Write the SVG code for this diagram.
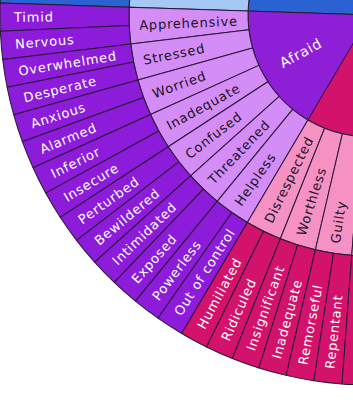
<svg xmlns="http://www.w3.org/2000/svg" xmlns:xlink="http://www.w3.org/1999/xlink" width="353" height="404" viewBox="0 0 353 404">
<style>
.w{stroke:#2a1838;stroke-width:1;stroke-linejoin:round}
.po{fill:#8c1cd9}.pm{fill:#d48cf6}.pi{fill:#8f1fd6}
.mo{fill:#d2126b}.mm{fill:#f592c3}.mi{fill:#d2126b}
.bo{fill:#2a62d2}.bm{fill:#a5c8f5}.bi{fill:#2a62d2}
text{font-family:"DejaVu Sans","Noto Sans",sans-serif;font-size:13px;letter-spacing:0.8px}
.lw{fill:#ffffff}.ld{fill:#1a1024}
</style>
<defs>
<path id="ow" d="M0,15 A370,370 0 0 0 1.079,43.232 L129.703,33.389 A241,241 0 0 1 129,15 Z"/>
<path id="mw" d="M129,15 A241,241 0 0 0 131.806,51.674 L249.421,33.565 A122,122 0 0 1 248,15 Z"/>
</defs>
<rect width="353" height="404" fill="#ffffff"/>
<g id="neighbour-blue">
<path class="w bi" d="M370,15 L291.58,-78.457 A122,122 0 0 0 248.064,11.040 Z"/>
<path class="w bm" d="M143.534,-67.427 A241,241 0 0 0 129.127,7.178 L248.064,11.040 A122,122 0 0 1 255.357,-26.726 Z"/>
<path class="w bo" d="M22.314,-111.547 A370,370 0 0 0 0.195,2.991 L129.127,7.178 A241,241 0 0 1 143.534,-67.427 Z"/>
</g>
<g id="afraid">
<path class="w pi" d="M370,15 L248.064,11.040 A122,122 0 0 0 307.904,120.015 Z"/>
<text class="lw" transform="rotate(-28.772 370 15)" x="291" y="19.9" text-anchor="middle" style="font-size:14px">Afraid</text>
</g>
<g id="ashamed-core">
<path class="w mi" d="M370,15 L307.904,120.015 A122,122 0 0 0 391.185,135.147 Z"/>
</g>
<g id="middle-ring">
<g id="apprehensive"><use href="#mw" class="w pm" transform="rotate(1.86 370 15)"/><text class="ld" transform="rotate(-2.516 370 15)" x="139" y="19.7">Apprehensive</text></g>
<g id="stressed"><use href="#mw" class="w pm" transform="rotate(-6.892 370 15)"/><text class="ld" transform="rotate(-11.268 370 15)" x="139" y="19.7">Stressed</text></g>
<g id="worried"><use href="#mw" class="w pm" transform="rotate(-15.644 370 15)"/><text class="ld" transform="rotate(-20.02 370 15)" x="139" y="19.7">Worried</text></g>
<g id="inadequate-mid"><use href="#mw" class="w pm" transform="rotate(-24.396 370 15)"/><text class="ld" transform="rotate(-28.772 370 15)" x="139" y="19.7">Inadequate</text></g>
<g id="confused"><use href="#mw" class="w pm" transform="rotate(-33.148 370 15)"/><text class="ld" transform="rotate(-37.524 370 15)" x="139" y="19.7">Confused</text></g>
<g id="threatened"><use href="#mw" class="w pm" transform="rotate(-41.9 370 15)"/><text class="ld" transform="rotate(-46.276 370 15)" x="139" y="19.7">Threatened</text></g>
<g id="helpless"><use href="#mw" class="w pm" transform="rotate(-50.652 370 15)"/><text class="ld" transform="rotate(-55.028 370 15)" x="139" y="19.7">Helpless</text></g>
<g id="disrespected"><use href="#mw" class="w mm" transform="rotate(-59.404 370 15)"/><text class="ld" transform="rotate(-63.78 370 15)" x="139" y="19.7">Disrespected</text></g>
<g id="worthless"><use href="#mw" class="w mm" transform="rotate(-68.156 370 15)"/><text class="ld" transform="rotate(-72.532 370 15)" x="139" y="19.7">Worthless</text></g>
<g id="guilty"><use href="#mw" class="w mm" transform="rotate(-76.908 370 15)"/><text class="ld" transform="rotate(-81.284 370 15)" x="139" y="19.7">Guilty</text></g>
<g id="mid-next"><use href="#mw" class="w mm" transform="rotate(-85.66 370 15)"/></g>
</g>
<g id="outer-ring">
<g id="timid"><use href="#ow" class="w po" transform="rotate(1.86 370 15)"/><text class="lw" transform="rotate(-0.328 370 15)" x="14" y="19.7">Timid</text></g>
<g id="nervous"><use href="#ow" class="w po" transform="rotate(-2.516 370 15)"/><text class="lw" transform="rotate(-4.704 370 15)" x="14" y="19.7">Nervous</text></g>
<g id="overwhelmed"><use href="#ow" class="w po" transform="rotate(-6.892 370 15)"/><text class="lw" transform="rotate(-9.08 370 15)" x="14" y="19.7">Overwhelmed</text></g>
<g id="desperate"><use href="#ow" class="w po" transform="rotate(-11.268 370 15)"/><text class="lw" transform="rotate(-13.456 370 15)" x="14" y="19.7">Desperate</text></g>
<g id="anxious"><use href="#ow" class="w po" transform="rotate(-15.644 370 15)"/><text class="lw" transform="rotate(-17.832 370 15)" x="14" y="19.7">Anxious</text></g>
<g id="alarmed"><use href="#ow" class="w po" transform="rotate(-20.02 370 15)"/><text class="lw" transform="rotate(-22.208 370 15)" x="14" y="19.7">Alarmed</text></g>
<g id="inferior"><use href="#ow" class="w po" transform="rotate(-24.396 370 15)"/><text class="lw" transform="rotate(-26.584 370 15)" x="14" y="19.7">Inferior</text></g>
<g id="insecure"><use href="#ow" class="w po" transform="rotate(-28.772 370 15)"/><text class="lw" transform="rotate(-30.96 370 15)" x="14" y="19.7">Insecure</text></g>
<g id="perturbed"><use href="#ow" class="w po" transform="rotate(-33.148 370 15)"/><text class="lw" transform="rotate(-35.336 370 15)" x="14" y="19.7">Perturbed</text></g>
<g id="bewildered"><use href="#ow" class="w po" transform="rotate(-37.524 370 15)"/><text class="lw" transform="rotate(-39.712 370 15)" x="14" y="19.7">Bewildered</text></g>
<g id="intimidated"><use href="#ow" class="w po" transform="rotate(-41.9 370 15)"/><text class="lw" transform="rotate(-44.088 370 15)" x="14" y="19.7">Intimidated</text></g>
<g id="exposed"><use href="#ow" class="w po" transform="rotate(-46.276 370 15)"/><text class="lw" transform="rotate(-48.464 370 15)" x="14" y="19.7">Exposed</text></g>
<g id="powerless"><use href="#ow" class="w po" transform="rotate(-50.652 370 15)"/><text class="lw" transform="rotate(-52.84 370 15)" x="14" y="19.7">Powerless</text></g>
<g id="out-of-control"><use href="#ow" class="w po" transform="rotate(-55.028 370 15)"/><text class="lw" transform="rotate(-57.216 370 15)" x="14" y="19.7">Out of control</text></g>
<g id="humiliated"><use href="#ow" class="w mo" transform="rotate(-59.404 370 15)"/><text class="lw" transform="rotate(-61.592 370 15)" x="14" y="19.7">Humiliated</text></g>
<g id="ridiculed"><use href="#ow" class="w mo" transform="rotate(-63.78 370 15)"/><text class="lw" transform="rotate(-65.968 370 15)" x="14" y="19.7">Ridiculed</text></g>
<g id="insignificant"><use href="#ow" class="w mo" transform="rotate(-68.156 370 15)"/><text class="lw" transform="rotate(-70.344 370 15)" x="14" y="19.7">Insignificant</text></g>
<g id="inadequate-out"><use href="#ow" class="w mo" transform="rotate(-72.532 370 15)"/><text class="lw" transform="rotate(-74.72 370 15)" x="14" y="19.7">Inadequate</text></g>
<g id="remorseful"><use href="#ow" class="w mo" transform="rotate(-76.908 370 15)"/><text class="lw" transform="rotate(-79.096 370 15)" x="14" y="19.7">Remorseful</text></g>
<g id="repentant"><use href="#ow" class="w mo" transform="rotate(-81.284 370 15)"/><text class="lw" transform="rotate(-83.472 370 15)" x="14" y="19.7">Repentant</text></g>
<g id="outer-next"><use href="#ow" class="w mo" transform="rotate(-85.66 370 15)"/></g>
</g>
<g id="connectors"/>
</svg>
